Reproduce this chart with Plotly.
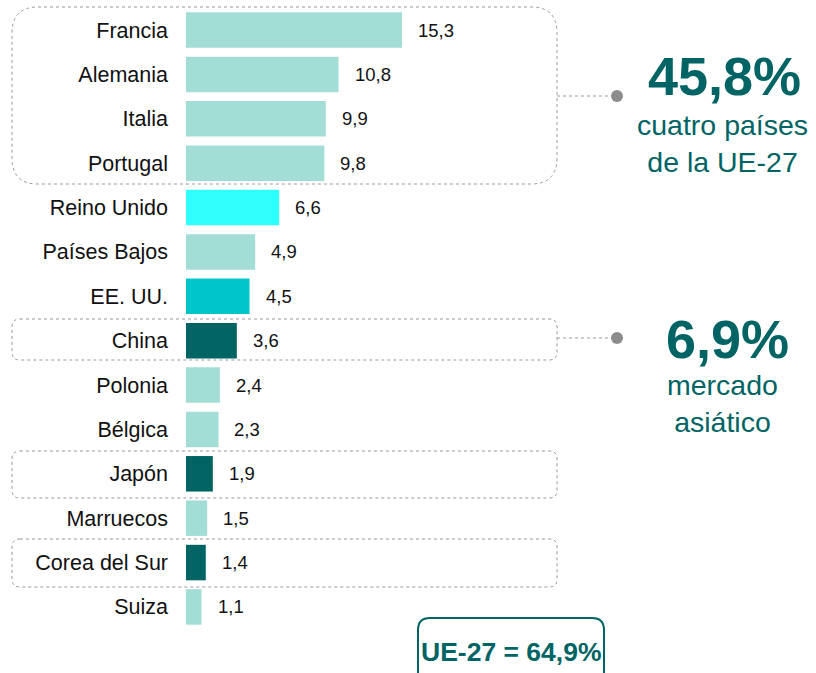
import plotly.graph_objects as go

# Export destinations and their share (%)
countries = ["Francia", "Alemania", "Italia", "Portugal", "Reino Unido", "Países Bajos",
             "EE. UU.", "China", "Polonia", "Bélgica", "Japón", "Marruecos",
             "Corea del Sur", "Suiza"]
shares = [15.3, 10.8, 9.9, 9.8, 6.6, 4.9, 4.5, 3.6, 2.4, 2.3, 1.9, 1.5, 1.4, 1.1]

LIGHT = "#A3DED6"
CYAN = "#2EFFFF"
MID = "#00C6CC"
DARK = "#006464"
bar_colors = {"Reino Unido": CYAN, "EE. UU.": MID,
              "China": DARK, "Japón": DARK, "Corea del Sur": DARK}
colors = [bar_colors.get(c, LIGHT) for c in countries]

W, H = 816, 673
ML = 186
PX_PER_UNIT = 14.12
ROW0, ROW_STEP = 30, 44.38
FONT = "Liberation Sans"


def fmt(v):
    return f"{v:.1f}".replace(".", ",")


def px(x):
    return (x - ML) / (W - ML)


def py(y):
    return 1 - y / H


def rounded_rect(x0, y0, x1, y1, r):
    pts = [
        f"M {px(x0 + r)} {py(y0)}",
        f"L {px(x1 - r)} {py(y0)}",
        f"Q {px(x1)} {py(y0)} {px(x1)} {py(y0 + r)}",
        f"L {px(x1)} {py(y1 - r)}",
        f"Q {px(x1)} {py(y1)} {px(x1 - r)} {py(y1)}",
        f"L {px(x0 + r)} {py(y1)}",
        f"Q {px(x0)} {py(y1)} {px(x0)} {py(y1 - r)}",
        f"L {px(x0)} {py(y0 + r)}",
        f"Q {px(x0)} {py(y0)} {px(x0 + r)} {py(y0)}",
        "Z",
    ]
    return " ".join(pts)


fig = go.Figure(go.Bar(
    x=shares, y=countries, orientation="h",
    marker=dict(color=colors, line=dict(width=0)),
    hoverinfo="skip",
))

annotations = []
for c, v in zip(countries, shares):
    annotations.append(dict(
        x=v, y=c, xref="x", yref="y", text=fmt(v), showarrow=False,
        xanchor="left", yanchor="middle", xshift=14,
        font=dict(family=FONT, size=18.5, color="#111111"),
    ))

# Call-out texts
annotations += [
    dict(x=px(724), y=py(76), xref="paper", yref="paper", text="<b>45,8%</b>",
         showarrow=False, xanchor="center", yanchor="middle",
         font=dict(family=FONT, size=54, color=DARK)),
    dict(x=px(722), y=py(143), xref="paper", yref="paper",
         text="cuatro países<br>de la UE-27", showarrow=False,
         xanchor="center", yanchor="middle", align="center",
         font=dict(family=FONT, size=28.5, color=DARK)),
    dict(x=px(727), y=py(339), xref="paper", yref="paper", text="<b>6,9%</b>",
         showarrow=False, xanchor="center", yanchor="middle",
         font=dict(family=FONT, size=54, color=DARK)),
    dict(x=px(722), y=py(403), xref="paper", yref="paper",
         text="mercado<br>asiático", showarrow=False,
         xanchor="center", yanchor="middle", align="center",
         font=dict(family=FONT, size=28.5, color=DARK)),
    dict(x=px(511), y=py(652), xref="paper", yref="paper", text="<b>UE-27 = 64,9%</b>",
         showarrow=False, xanchor="center", yanchor="middle",
         font=dict(family=FONT, size=26.5, color=DARK)),
]

GREY = "#9A9A9A"
dotted = dict(color=GREY, width=1, dash="dot")
shapes = [
    dict(type="path", xref="paper", yref="paper", path=rounded_rect(12, 7, 557, 184, 26), line=dotted),
    dict(type="path", xref="paper", yref="paper", path=rounded_rect(12, 319, 557, 360, 8), line=dotted),
    dict(type="path", xref="paper", yref="paper", path=rounded_rect(12, 451, 557, 498, 8), line=dotted),
    dict(type="path", xref="paper", yref="paper", path=rounded_rect(12, 539, 557, 587, 8), line=dotted),
    dict(type="line", xref="paper", yref="paper", x0=px(557), x1=px(617), y0=py(96), y1=py(96), line=dotted),
    dict(type="line", xref="paper", yref="paper", x0=px(557), x1=px(617), y0=py(338), y1=py(338), line=dotted),
    dict(type="circle", xref="paper", yref="paper", x0=px(611), x1=px(623), y0=py(90), y1=py(102),
         fillcolor="#8C8C8C", line=dict(width=0)),
    dict(type="circle", xref="paper", yref="paper", x0=px(611), x1=px(623), y0=py(332), y1=py(344),
         fillcolor="#8C8C8C", line=dict(width=0)),
    dict(type="path", xref="paper", yref="paper", path=rounded_rect(418, 618, 604, 690, 12),
         line=dict(color=DARK, width=2)),
]

top_idx = -ROW0 / ROW_STEP
bot_idx = (H - ROW0) / ROW_STEP

fig.update_layout(
    width=W, height=H,
    margin=dict(l=ML, r=0, t=0, b=0),
    paper_bgcolor="white", plot_bgcolor="white",
    showlegend=False, bargap=0.2,
    font=dict(family=FONT),
    xaxis=dict(range=[0, (W - ML) / PX_PER_UNIT], visible=False, fixedrange=True),
    yaxis=dict(range=[bot_idx, top_idx], categoryorder="array", categoryarray=countries,
               showgrid=False, zeroline=False, showline=False, ticks="",
               ticklabelstandoff=17, automargin=False,
               tickfont=dict(family=FONT, size=21.5, color="#111111")),
    annotations=annotations,
    shapes=shapes,
)

fig.write_html("out.html")
